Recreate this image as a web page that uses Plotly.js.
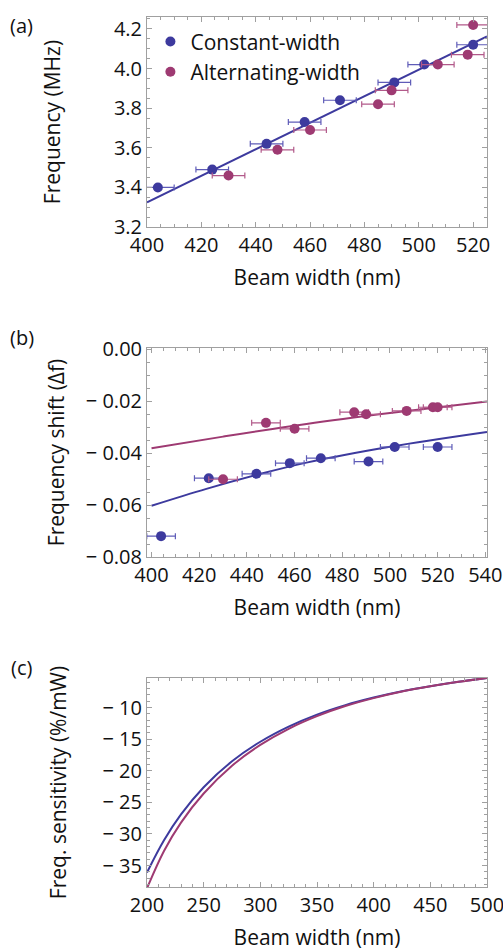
<!DOCTYPE html>
<html>
<head>
<meta charset="utf-8">
<script src="https://cdn.plot.ly/plotly-3.0.1.min.js"></script>
<style>html,body{margin:0;padding:0;background:#fff;}#chart{width:503px;height:951px;}</style>
</head>
<body>
<div id="chart"></div>
<script>
// ---- data ----
// panel (a): frequency vs beam width
const widthConst = [404, 424, 444, 458, 471, 491, 502, 520];
const freqConst  = [3.40, 3.49, 3.62, 3.73, 3.84, 3.93, 4.02, 4.12];
const widthAlt   = [430, 448, 460, 485, 490, 507, 518, 520];
const freqAlt    = [3.46, 3.59, 3.69, 3.82, 3.89, 4.02, 4.07, 4.22];
const widthErr   = 6;
const fitAX = [400, 525.1];
const fitAY = [3.325, 4.162];

// panel (b): frequency shift
const shiftConst = [-0.0719, -0.0496, -0.0479, -0.0438, -0.0419, -0.0432, -0.0376, -0.0376];
const shiftAlt   = [-0.0500, -0.0283, -0.0306, -0.0242, -0.0250, -0.0237, -0.0223, -0.0223];
const fitBConstX = [400, 423, 445, 465, 500, 540.7];
const fitBConstY = [-0.0602, -0.0537, -0.0481, -0.0436, -0.0375, -0.0318];
const fitBAltX   = [400, 430, 465, 500, 540.7];
const fitBAltY   = [-0.0381, -0.0336, -0.0287, -0.0245, -0.0201];

// panel (c): frequency sensitivity
const sensWidth = [200, 215, 230, 250, 275, 300, 325, 350, 375, 400, 425, 450, 475, 500];
const sensConst = [-36.1, -31.0, -26.9, -22.6, -18.5, -15.4, -13.0, -11.1, -9.6, -8.4, -7.4, -6.6, -5.9, -5.3];
const sensAlt   = [-38.6, -32.7, -28.2, -23.6, -19.2, -15.9, -13.35, -11.35, -9.75, -8.5, -7.45, -6.62, -5.92, -5.3];

// tick labels
const yTickA = [3.2, 3.4, 3.6, 3.8, 4.0, 4.2];
const yTickAText = ['3.2', '3.4', '3.6', '3.8', '4.0', '4.2'];
const yTickB = [0, -0.02, -0.04, -0.06, -0.08];
const yTickBText = ['0.00', '\u2212 0.02', '\u2212 0.04', '\u2212 0.06', '\u2212 0.08'];
const yTickC = [-10, -15, -20, -25, -30, -35];
const yTickCText = ['\u2212 10', '\u2212 15', '\u2212 20', '\u2212 25', '\u2212 30', '\u2212 35'];

// ---- styles ----
const BLUE = '#3d3a9e';
const MAG = '#9e3a72';
const BLUE_ERR = '#5f5cb8';
const MAG_ERR = '#b25a8a';
const FONT = 'Open Sans, Noto Sans, sans-serif';

function errX(c) {
  return {type: 'constant', value: widthErr, color: c, thickness: 1.2, width: 3};
}

const traces = [
  // (a)
  {x: fitAX, y: fitAY, mode: 'lines', line: {color: BLUE, width: 2}, xaxis: 'x', yaxis: 'y', showlegend: false, hoverinfo: 'skip'},
  {x: widthConst, y: freqConst, mode: 'markers', name: 'Constant-width', marker: {color: BLUE, size: 10}, error_x: errX(BLUE_ERR), xaxis: 'x', yaxis: 'y'},
  {x: widthAlt, y: freqAlt, mode: 'markers', name: 'Alternating-width', marker: {color: MAG, size: 10}, error_x: errX(MAG_ERR), xaxis: 'x', yaxis: 'y'},
  // (b)
  {x: fitBAltX, y: fitBAltY, mode: 'lines', line: {color: MAG, width: 2, shape: 'spline'}, xaxis: 'x2', yaxis: 'y2', showlegend: false},
  {x: fitBConstX, y: fitBConstY, mode: 'lines', line: {color: BLUE, width: 2, shape: 'spline'}, xaxis: 'x2', yaxis: 'y2', showlegend: false},
  {x: widthConst, y: shiftConst, mode: 'markers', marker: {color: BLUE, size: 10}, error_x: errX(BLUE_ERR), xaxis: 'x2', yaxis: 'y2', showlegend: false},
  {x: widthAlt, y: shiftAlt, mode: 'markers', marker: {color: MAG, size: 10}, error_x: errX(MAG_ERR), xaxis: 'x2', yaxis: 'y2', showlegend: false},
  // (c)
  {x: sensWidth, y: sensConst, mode: 'lines', line: {color: BLUE, width: 2, shape: 'spline'}, xaxis: 'x3', yaxis: 'y3', showlegend: false},
  {x: sensWidth, y: sensAlt, mode: 'lines', line: {color: MAG, width: 2, shape: 'spline'}, xaxis: 'x3', yaxis: 'y3', showlegend: false}
];

function xax(range, dtick, minorDtick, anchor, standoff) {
  return {
    range: range, dtick: dtick, tick0: 0, anchor: anchor, domain: [0, 1],
    showline: true, linecolor: '#a0a0a0', linewidth: 1, mirror: 'ticks',
    ticks: 'inside', ticklen: 5, tickcolor: '#a0a0a0', tickwidth: 1,
    minor: {ticks: 'inside', ticklen: 3, dtick: minorDtick, tickcolor: '#a0a0a0', showgrid: false},
    showgrid: false, zeroline: false, ticklabeloverflow: 'allow',
    tickfont: {family: FONT, size: 20, color: '#111'},
    title: {text: 'Beam width (nm)', font: {family: FONT, size: 21, color: '#111'}, standoff: standoff},
    automargin: false
  };
}
function yax(range, vals, texts, minorDtick, anchor, domain, title, standoff) {
  return {
    range: range, tickmode: 'array', tickvals: vals, ticktext: texts, anchor: anchor, domain: domain,
    showline: true, linecolor: '#a0a0a0', linewidth: 1, mirror: 'ticks',
    ticks: 'inside', ticklen: 5, tickcolor: '#a0a0a0', tickwidth: 1,
    minor: {ticks: 'inside', ticklen: 3, dtick: minorDtick, tickcolor: '#a0a0a0', showgrid: false},
    showgrid: false, zeroline: false, ticklabeloverflow: 'allow',
    tickfont: {family: FONT, size: 20, color: '#111'},
    title: {text: title, font: {family: FONT, size: 21, color: '#111'}, standoff: standoff},
    automargin: false
  };
}

const layout = {
  width: 503, height: 951,
  margin: {l: 147, r: 16, t: 17, b: 64.3},
  paper_bgcolor: '#fff', plot_bgcolor: '#fff',
  font: {family: FONT, color: '#111'},
  showlegend: true,
  legend: {x: 0.01, y: 0.995, xanchor: 'left', yanchor: 'top', bgcolor: 'rgba(0,0,0,0)', borderwidth: 0,
           font: {family: FONT, size: 21, color: '#111'}, itemwidth: 30, tracegroupgap: 0},
  xaxis: xax([400, 525.1], 20, 5, 'y', 13),
  yaxis: yax([3.2, 4.26], yTickA, yTickAText, 0.05, 'x', [0.7585, 1.0], 'Frequency (MHz)', 47),
  xaxis2: xax([398.1, 540.7], 20, 5, 'y2', 13),
  yaxis2: yax([-0.08, 0.0006], yTickB, yTickBText, 0.005, 'x2', [0.3791, 0.6198], 'Frequency shift (\u0394f)', 15),
  xaxis3: xax([200, 500], 50, 10, 'y3', 13),
  yaxis3: yax([-38.4, -5.3], yTickC, yTickCText, 1, 'x3', [0.0, 0.2403], 'Freq. sensitivity (%/mW)', 30),
  annotations: [
    {text: '(a)', xref: 'paper', yref: 'paper', x: -0.368, y: 0.9908, xanchor: 'center', yanchor: 'middle', showarrow: false, font: {family: FONT, size: 20, color: '#111'}},
    {text: '(b)', xref: 'paper', yref: 'paper', x: -0.368, y: 0.632, xanchor: 'center', yanchor: 'middle', showarrow: false, font: {family: FONT, size: 20, color: '#111'}},
    {text: '(c)', xref: 'paper', yref: 'paper', x: -0.368, y: 0.2526, xanchor: 'center', yanchor: 'middle', showarrow: false, font: {family: FONT, size: 20, color: '#111'}}
  ]
};

Plotly.newPlot('chart', traces, layout, {displayModeBar: false, staticPlot: true});
</script>
</body>
</html>
